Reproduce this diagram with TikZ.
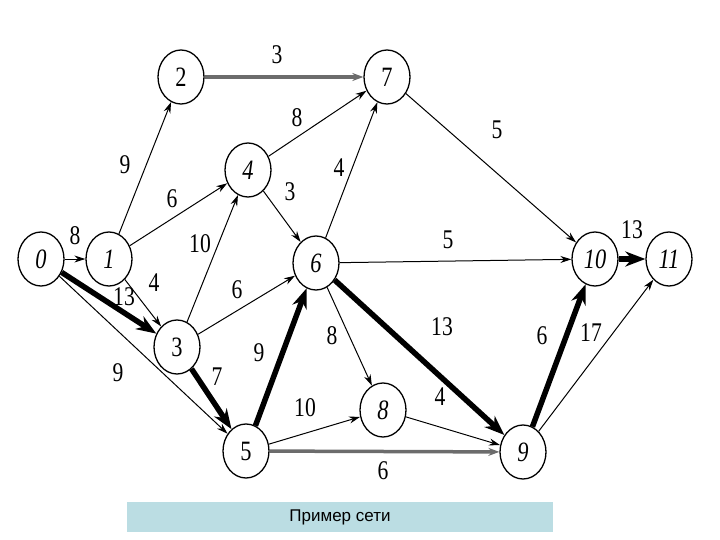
\documentclass[tikz,border=0pt]{standalone}
\usepackage{fontspec}
\setmainfont{Liberation Serif}
\newfontfamily\numfont{Liberation Serif}[FakeStretch=0.8]
\newfontfamily\capfont{Liberation Sans}
\usetikzlibrary{shapes.geometric,arrows.meta}
\definecolor{capblue}{RGB}{187,221,227}
\begin{document}
\begin{tikzpicture}[x=1pt,y=-1pt,
 ev/.style={ellipse,draw,line width=1.3pt,minimum width=46pt,minimum height=54pt,inner sep=0pt,font=\numfont\fontsize{28}{28}\selectfont},
 lab/.style={font=\numfont\fontsize{27}{27}\selectfont,inner sep=0pt},
 arc/.style={-{Stealth[length=11pt,width=7pt]},line width=1pt},
 crit/.style={-{Stealth[length=20pt,width=15pt]},line width=5.5pt},
 greyarc/.style={-{Stealth[length=11pt,width=8pt]},line width=3.5pt,draw=gray!85!black}]
\useasboundingbox (0,0) rectangle (720,540);
% events
\node[ev] (n0) at (41,259) {\textit{0}};
\node[ev] (n1) at (109,259) {\textit{1}};
\node[ev] (n2) at (181,77) {2};
\node[ev] (n3) at (177,347) {3};
\node[ev] (n4) at (248,170) {\textit{4}};
\node[ev] (n5) at (246,451) {5};
\node[ev] (n6) at (316,263) {\textit{6}};
\node[ev] (n7) at (387,77) {7};
\node[ev] (n8) at (383,410) {\textit{8}};
\node[ev] (n9) at (523,452) {\textit{9}};
\node[ev] (n10) at (595,259) {\textit{10}};
\node[ev] (n11) at (669,259) {\textit{11}};
% ordinary arcs
\draw[arc] (n0) -- (n1);
\draw[arc] (n1) -- (n2);
\draw[arc] (n1) -- (n4);
\draw[arc] (n1) -- (n3);
\draw[arc] (n0) -- (n5);
\draw[arc] (n3) -- (n4);
\draw[arc] (n3) -- (n6);
\draw[arc] (n4) -- (n7);
\draw[arc] (n4) -- (n6);
\draw[arc] (n6) -- (n7);
\draw[arc] (n7) -- (n10);
\draw[arc] (n6) -- (n10);
\draw[arc] (n6) -- (n8);
\draw[arc] (n5) -- (n8);
\draw[arc] (n8) -- (n9);
\draw[arc] (n9) -- (n11);
\draw[greyarc] (n2) -- (n7);
\draw[greyarc] (n5) -- (n9);
% critical path
\draw[crit] (n0) -- (n3);
\draw[crit] (n3) -- (n5);
\draw[crit] (n5) -- (n6);
\draw[crit] (n6) -- (n9);
\draw[crit] (n9) -- (n10);
\draw[crit] (n10) -- (n11);
% labels
\node[lab] (l27) at (277,55) {3};
\node[lab] (l47) at (297,118) {8};
\node[lab] (l12) at (125,165) {9};
\node[lab] (l14) at (172,199) {6};
\node[lab] (l46) at (290,192) {3};
\node[lab] (l67) at (339,168) {4};
\node[lab] (l710) at (497,130) {5};
\node[lab] (l01) at (75,236) {8};
\node[lab] (l34) at (200,244) {10};
\node[lab] (l13) at (154,283) {4};
\node[lab] (l03) at (124,297) {13};
\node[lab] (l36) at (237,290) {6};
\node[lab] (l610) at (448,240) {5};
\node[lab] (l1011) at (632,230) {13};
\node[lab] (l69) at (442,327) {13};
\node[lab] (l68) at (332,336) {8};
\node[lab] (l05) at (118,373) {9};
\node[lab] (l56) at (259,353) {9};
\node[lab] (l35) at (217,377) {7};
\node[lab] (l910) at (542,336) {6};
\node[lab] (l911) at (591,333) {17};
\node[lab] (l58) at (305,408) {10};
\node[lab] (l89) at (440,397) {4};
\node[lab] (l59) at (383,471) {6};
% caption
\node[fill=capblue,minimum width=426pt,minimum height=30pt,inner sep=0pt,font=\capfont\fontsize{17}{17}\selectfont] (cap) at (340,517) {Пример сети};
\end{tikzpicture}
\end{document}
